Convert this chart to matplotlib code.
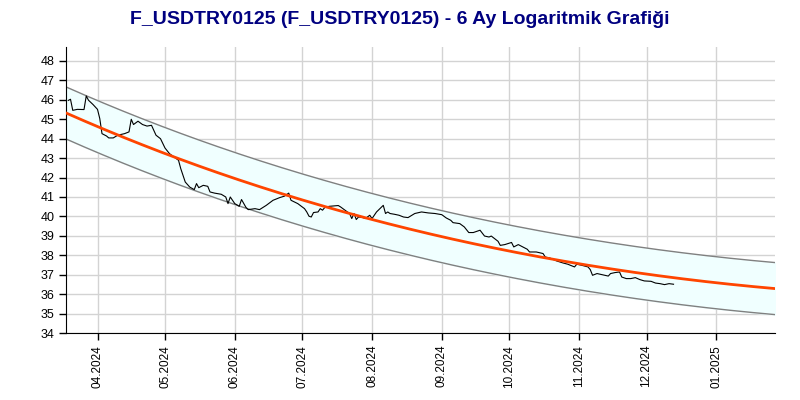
import numpy as np
import pandas as pd
import matplotlib
matplotlib.use("Agg")
import matplotlib.pyplot as plt
import matplotlib.dates as mdates

# price series
dates = ["2024-03-19", "2024-03-20", "2024-03-21", "2024-03-23", "2024-03-26", "2024-03-27", "2024-03-28", "2024-03-30",
         "2024-04-01", "2024-04-02", "2024-04-03", "2024-04-05", "2024-04-06", "2024-04-08", "2024-04-10", "2024-04-13",
         "2024-04-15", "2024-04-16", "2024-04-17", "2024-04-19", "2024-04-21", "2024-04-23", "2024-04-25", "2024-04-27",
         "2024-04-29", "2024-05-01", "2024-05-03", "2024-05-07", "2024-05-08", "2024-05-10", "2024-05-12", "2024-05-14",
         "2024-05-15", "2024-05-16", "2024-05-18", "2024-05-20", "2024-05-21", "2024-05-23", "2024-05-26", "2024-05-28",
         "2024-05-29", "2024-05-30", "2024-06-01", "2024-06-03", "2024-06-04", "2024-06-06", "2024-06-07", "2024-06-10",
         "2024-06-12", "2024-06-15", "2024-06-18", "2024-06-21", "2024-06-23", "2024-06-25", "2024-06-26", "2024-06-29",
         "2024-07-02", "2024-07-03", "2024-07-04", "2024-07-05", "2024-07-06", "2024-07-08", "2024-07-09", "2024-07-10",
         "2024-07-11", "2024-07-13", "2024-07-17", "2024-07-18", "2024-07-20", "2024-07-22", "2024-07-23", "2024-07-24",
         "2024-07-25", "2024-07-26", "2024-07-28", "2024-07-29", "2024-07-31", "2024-08-01", "2024-08-03", "2024-08-06",
         "2024-08-07", "2024-08-08", "2024-08-09", "2024-08-11", "2024-08-13", "2024-08-15", "2024-08-17", "2024-08-20",
         "2024-08-23", "2024-08-26", "2024-08-29", "2024-09-01", "2024-09-03", "2024-09-05", "2024-09-06", "2024-09-09",
         "2024-09-11", "2024-09-13", "2024-09-15", "2024-09-18", "2024-09-20", "2024-09-22", "2024-09-23", "2024-09-26",
         "2024-09-27", "2024-09-29", "2024-10-02", "2024-10-03", "2024-10-05", "2024-10-07", "2024-10-09", "2024-10-10",
         "2024-10-13", "2024-10-16", "2024-10-17", "2024-10-19", "2024-10-22", "2024-10-25", "2024-10-27", "2024-10-30",
         "2024-10-31", "2024-11-02", "2024-11-05", "2024-11-06", "2024-11-07", "2024-11-09", "2024-11-11", "2024-11-14",
         "2024-11-15", "2024-11-17", "2024-11-19", "2024-11-20", "2024-11-22", "2024-11-24", "2024-11-26", "2024-11-28",
         "2024-11-30", "2024-12-03", "2024-12-05", "2024-12-07", "2024-12-09", "2024-12-11", "2024-12-13"]
prices = [45.97, 46.03, 45.46, 45.51, 45.50, 46.20, 45.98, 45.76,
          45.51, 45.04, 44.26, 44.14, 44.04, 44.04, 44.18, 44.26,
          44.35, 45.00, 44.73, 44.90, 44.73, 44.65, 44.69, 44.18,
          44.00, 43.52, 43.23, 42.89, 42.46, 41.77, 41.51, 41.38,
          41.69, 41.48, 41.60, 41.55, 41.26, 41.20, 41.14, 41.00,
          40.66, 41.00, 40.66, 40.52, 40.87, 40.46, 40.35, 40.40,
          40.35, 40.57, 40.83, 40.97, 41.04, 41.20, 40.83, 40.66,
          40.40, 40.23, 40.01, 39.97, 40.20, 40.23, 40.40, 40.32,
          40.46, 40.52, 40.56, 40.49, 40.32, 40.15, 39.89, 40.15,
          39.84, 39.97, 39.94, 39.89, 40.06, 39.89, 40.23, 40.57,
          40.15, 40.23, 40.15, 40.11, 40.06, 39.97, 39.94, 40.15,
          40.23, 40.18, 40.15, 40.09, 39.92, 39.80, 39.68, 39.63,
          39.46, 39.17, 39.17, 39.29, 38.99, 38.94, 38.99, 38.72,
          38.51, 38.55, 38.66, 38.43, 38.55, 38.43, 38.31, 38.17,
          38.17, 38.09, 37.91, 37.86, 37.71, 37.60, 37.54, 37.40,
          37.54, 37.49, 37.40, 37.26, 36.97, 37.06, 37.01, 36.93,
          37.06, 37.11, 37.14, 36.88, 36.80, 36.80, 36.85, 36.75,
          36.68, 36.66, 36.57, 36.54, 36.49, 36.54, 36.51]

x_start, x_end = "2024-03-18", "2025-01-27"
y_ticks = list(range(34, 49))
title = "F_USDTRY0125 (F_USDTRY0125) - 6 Ay Logaritmik Grafiği"

plt.rcParams['font.family'] = ['Liberation Sans', 'DejaVu Sans']

d = pd.to_datetime(dates)
p = np.array(prices)

# log-quadratic regression trend + channel
t = mdates.date2num(d)
t0 = t[0]
coef = np.polyfit(t - t0, np.log(p), 2)
fit = np.exp(np.polyval(coef, t - t0))
width = 2 * (p - fit).std()
tt = np.linspace(mdates.datestr2num(x_start), mdates.datestr2num(x_end), 300)
mid = np.exp(np.polyval(coef, tt - t0))
up = mid + width
lo = mid - width

fig = plt.figure(figsize=(8, 4), dpi=100)
ax = fig.add_axes([0.0825, 0.1675, 0.886, 0.715])

ax.fill_between(tt, lo, up, color='#f0ffff', zorder=1)
ax.plot(tt, up, color='#808080', lw=1, zorder=2)
ax.plot(tt, lo, color='#808080', lw=1, zorder=2)
ax.plot(tt, mid, color='#ff4500', lw=2, zorder=4)
ax.plot(d, p, color='black', lw=0.8, zorder=3)

ax.set_xlim(mdates.datestr2num(x_start), mdates.datestr2num(x_end))
ax.set_ylim(34, 48.72)
ax.set_yticks(y_ticks)
ax.xaxis.set_major_locator(mdates.MonthLocator())
ax.xaxis.set_major_formatter(mdates.DateFormatter('%m.%Y'))
plt.setp(ax.get_xticklabels(), rotation=90, fontsize=8.5)
plt.setp(ax.get_yticklabels(), fontsize=9)
ax.tick_params(length=5, width=1, colors='black')

ax.grid(True, color='#d3d3d3', lw=1, zorder=0)
ax.set_axisbelow(True)
for s in ['top', 'right']:
    ax.spines[s].set_visible(False)

fig.text(0.5, 0.95, title, ha='center', va='center', fontsize=14,
         fontweight='bold', color='#000080')

plt.savefig('out.png', dpi=100)
